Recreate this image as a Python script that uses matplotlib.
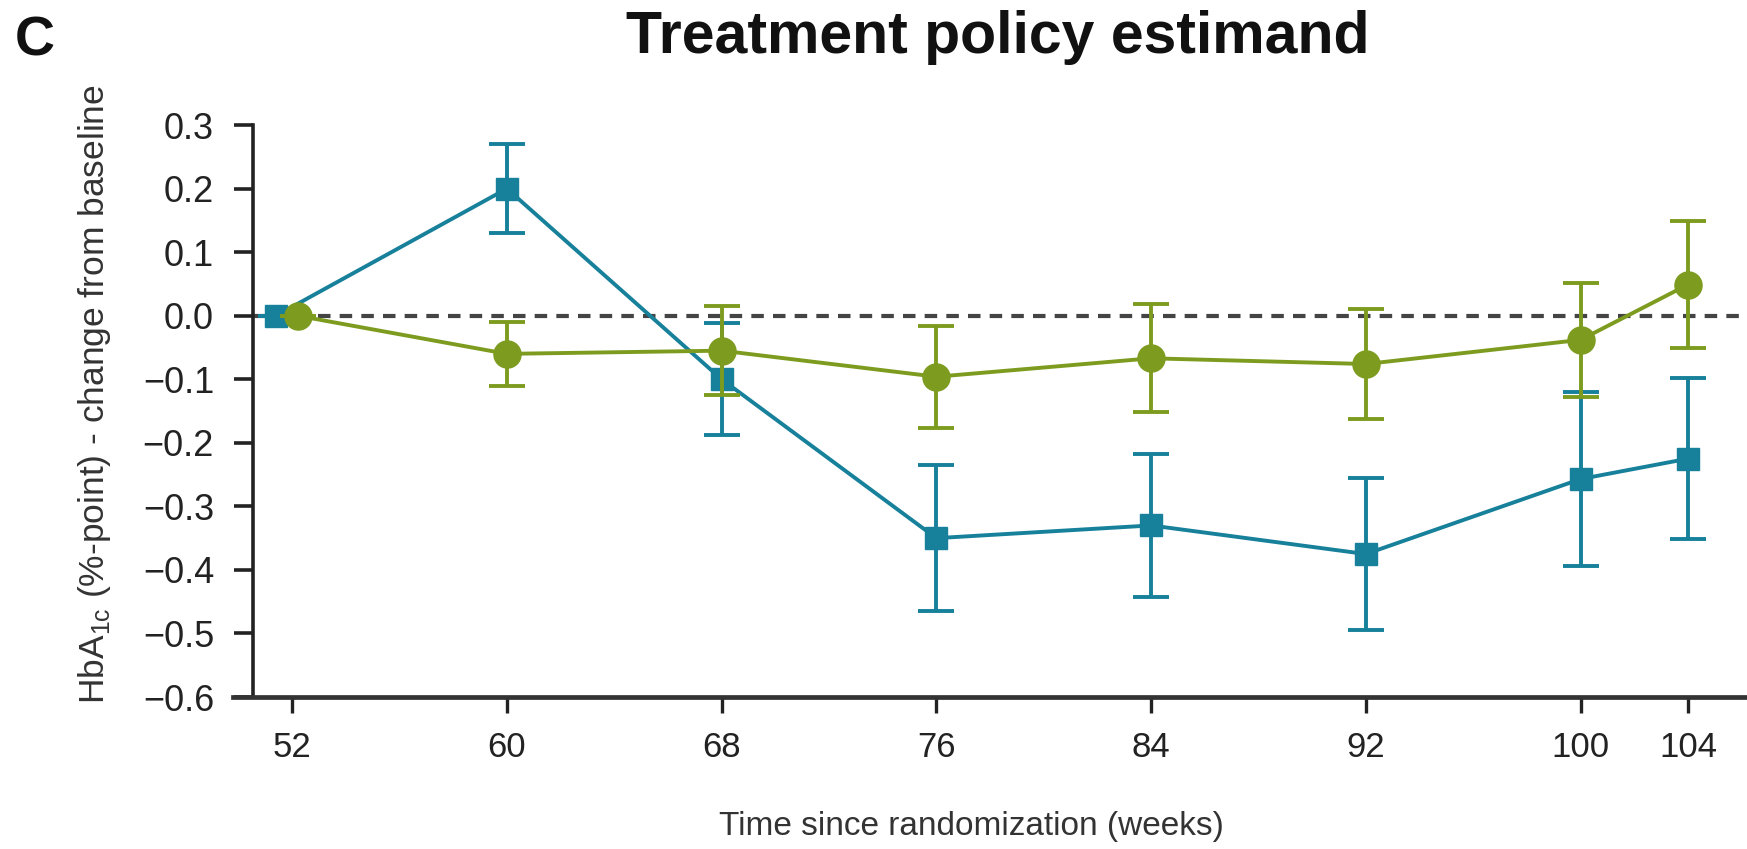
import numpy as np
import matplotlib.pyplot as plt

plt.rcParams['font.family'] = ['Liberation Sans', 'DejaVu Sans']

# Weeks since randomization
weeks = [52, 60, 68, 76, 84, 92, 100, 104]
# the two week-52 points are drawn side by side in the original
weeks_teal = [51.4, 60, 68, 76, 84, 92, 100, 104]
weeks_green = [52.2, 60, 68, 76, 84, 92, 100, 104]

# Teal series (squares)
teal_mean = [0.0, 0.20, -0.10, -0.35, -0.33, -0.375, -0.257, -0.225]
teal_err = [0.0, 0.07, 0.088, 0.115, 0.113, 0.12, 0.137, 0.127]

# Green series (circles)
green_mean = [0.0, -0.06, -0.055, -0.096, -0.067, -0.076, -0.038, 0.049]
green_err = [0.0, 0.05, 0.07, 0.08, 0.085, 0.087, 0.09, 0.10]

yticks = [0.3, 0.2, 0.1, 0.0, -0.1, -0.2, -0.3, -0.4, -0.5, -0.6]

teal = '#17809a'
green = '#7d9c1f'

fig = plt.figure(figsize=(17.47, 8.49), dpi=100)
ax = fig.add_axes([0.1448, 0.179, 0.8552, 0.6737])

# reference line at zero
ax.axhline(0, color='#444444', lw=3.0, ls=(0, (3, 2.2)), zorder=1)

ax.errorbar(weeks_green, green_mean, yerr=green_err, color=green, marker='o',
            markersize=19.5, lw=2.8, elinewidth=2.8, capsize=13, capthick=2.8,
            zorder=3)
ax.errorbar(weeks_teal, teal_mean, yerr=teal_err, color=teal, marker='s',
            markersize=16.5, lw=2.8, elinewidth=2.8, capsize=13, capthick=2.8,
            zorder=2)

ax.set_xlim(50.54, 106.2)
ax.set_ylim(-0.6, 0.3)
ax.set_xticks(weeks)
ax.set_xticklabels([str(w) for w in weeks])
ax.set_yticks(yticks)
ax.set_yticklabels(['%.1f' % v if v >= 0 else '\u2212%.1f' % abs(v) for v in yticks])

for side in ['top', 'right']:
    ax.spines[side].set_visible(False)
ax.spines['left'].set_linewidth(2.6)
ax.spines['bottom'].set_linewidth(3.4)
ax.spines['bottom'].set_bounds(49.8, 106.2)
ax.spines['left'].set_color('#222222')
ax.spines['bottom'].set_color('#333333')

ax.tick_params(axis='y', direction='out', length=14, width=2.6, labelsize=26,
               pad=14, colors='#222222')
ax.tick_params(axis='x', direction='out', length=11.5, width=2.4, labelsize=25,
               pad=13, colors='#222222')

ax.set_ylabel(r'HbA$_{\mathregular{1c}}$ (%-point) - change from baseline',
              fontsize=25.5, color='#333333')
ax.yaxis.set_label_coords(-0.094, 0.53)
ax.set_xlabel('Time since randomization (weeks)', fontsize=24, color='#333333')
ax.xaxis.set_label_coords(0.481, -0.227)
ax.xaxis.label.set_va('center')

fig.text(0.571, 0.9376, 'Treatment policy estimand', fontsize=42.5,
         fontweight='bold', ha='center', va='baseline', color='#111111')
fig.text(0.0086, 0.935, 'C', fontsize=40, fontweight='bold', ha='left',
         va='baseline', color='#111111')

fig.savefig('out.png', dpi=100)
